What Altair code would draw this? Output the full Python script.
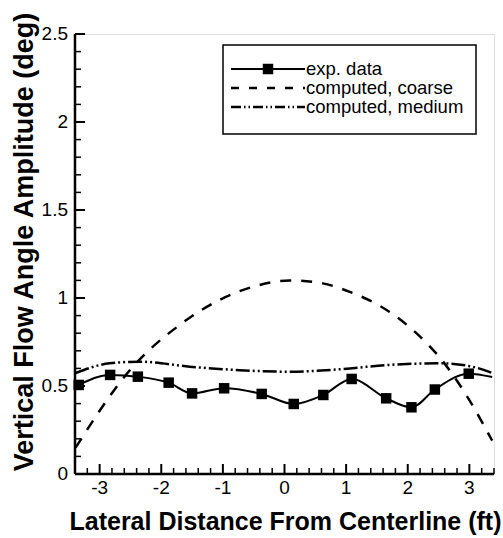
import altair as alt
import pandas as pd

# ---- data ----
exp_x = [-3.34, -2.83, -2.38, -1.88, -1.50, -0.98, -0.37, 0.15, 0.63, 1.09, 1.65, 2.06, 2.44, 2.99]
exp_y = [0.506, 0.563, 0.553, 0.519, 0.458, 0.487, 0.455, 0.398, 0.449, 0.540, 0.430, 0.379, 0.480, 0.570]
exp_line_x = exp_x + [3.37]
exp_line_y = exp_y + [0.551]

coarse_x = [-3.39, -2.46, -1.70, -1.05, -0.51, 0.08, 0.62, 1.05, 1.70, 2.14, 2.57, 3.00, 3.37]
coarse_y = [0.150, 0.610, 0.847, 0.990, 1.064, 1.100, 1.083, 1.036, 0.922, 0.800, 0.640, 0.420, 0.190]

medium_x = [-3.39, -2.84, -2.35, -1.54, -0.73, 0.08, 0.89, 1.70, 2.51, 2.99, 3.37]
medium_y = [0.574, 0.629, 0.638, 0.610, 0.590, 0.581, 0.595, 0.620, 0.629, 0.614, 0.574]

x_major = [-3, -2, -1, 0, 1, 2, 3]
x_major_labels = ["-3", "-2", "-1", "0", "1", "2", "3"]
x_minor = [-3.2, -2.8, -2.6, -2.4, -2.2, -1.8, -1.6, -1.4, -1.2, -0.8, -0.6, -0.4, -0.2,
           0.2, 0.4, 0.6, 0.8, 1.2, 1.4, 1.6, 1.8, 2.2, 2.4, 2.6, 2.8, 3.2, 3.4]
y_major = [0, 0.5, 1, 1.5, 2, 2.5]
y_major_labels = ["0", "0.5", "1", "1.5", "2", "2.5"]
y_minor = [0.1, 0.2, 0.3, 0.4, 0.6, 0.7, 0.8, 0.9, 1.1, 1.2, 1.3, 1.4, 1.6, 1.7, 1.8, 1.9,
           2.1, 2.2, 2.3, 2.4]

legend_labels = ["exp. data", "computed, coarse", "computed, medium"]
x_title = "Lateral Distance From Centerline (ft)"
y_title = "Vertical Flow Angle Amplitude (deg)"

FONT = "Liberation Sans"
W, H = 419, 440

xs = alt.Scale(domain=[-3.4, 3.4], nice=False, zero=False)
ys = alt.Scale(domain=[0, 2.5], nice=False, zero=False)


def X(field):
    return alt.X(field, scale=xs, axis=None)


def Y(field):
    return alt.Y(field, scale=ys, axis=None)


exp_line_df = pd.DataFrame({"x": exp_line_x, "y": exp_line_y})
exp_df = pd.DataFrame({"x": exp_x, "y": exp_y})
coarse_df = pd.DataFrame({"x": coarse_x, "y": coarse_y})
medium_df = pd.DataFrame({"x": medium_x, "y": medium_y})

# ---- curves ----
exp_line = alt.Chart(exp_line_df).mark_line(color="black", strokeWidth=2, interpolate="monotone").encode(
    x=X("x:Q"), y=Y("y:Q"))
exp_pts = alt.Chart(exp_df).mark_square(color="black", size=110, opacity=1).encode(
    x=X("x:Q"), y=Y("y:Q"))
coarse = alt.Chart(coarse_df).mark_line(color="black", strokeWidth=2.5, strokeDash=[11, 10],
                                        interpolate="monotone").encode(
    x=X("x:Q"), y=Y("y:Q"))
medium = alt.Chart(medium_df).mark_line(color="black", strokeWidth=2.5,
                                        strokeDash=[14, 3, 2, 3, 2, 3],
                                        interpolate="monotone").encode(
    x=X("x:Q"), y=Y("y:Q"))

# ---- axes drawn with marks (domain lines, inward ticks, labels, titles) ----
one = pd.DataFrame({"t": [x_title], "u": [y_title]})
x_domain = alt.Chart(one).mark_rule(color="black", strokeWidth=2.5).encode(
    x=alt.value(0), x2=alt.value(W), y=alt.value(H))
y_domain = alt.Chart(one).mark_rule(color="black", strokeWidth=2.5).encode(
    x=alt.value(0), y=alt.value(0), y2=alt.value(H))

xmaj = alt.Chart(pd.DataFrame({"x": x_major})).mark_rule(color="black", strokeWidth=2).encode(
    x=X("x:Q"), y=alt.value(H), y2=alt.value(H - 10))
xmin = alt.Chart(pd.DataFrame({"x": x_minor})).mark_rule(color="black", strokeWidth=1.5).encode(
    x=X("x:Q"), y=alt.value(H), y2=alt.value(H - 6))
ymaj = alt.Chart(pd.DataFrame({"y": y_major})).mark_rule(color="black", strokeWidth=2).encode(
    y=Y("y:Q"), x=alt.value(0), x2=alt.value(10))
ymin = alt.Chart(pd.DataFrame({"y": y_minor})).mark_rule(color="black", strokeWidth=1.5).encode(
    y=Y("y:Q"), x=alt.value(0), x2=alt.value(6))

xlab = alt.Chart(pd.DataFrame({"x": x_major, "lab": x_major_labels})).mark_text(
    font=FONT, fontSize=19, color="black", align="center", baseline="top").encode(
    x=X("x:Q"), y=alt.value(H + 5), text="lab:N")
ylab = alt.Chart(pd.DataFrame({"y": y_major, "lab": y_major_labels})).mark_text(
    font=FONT, fontSize=19, color="black", align="right", baseline="middle").encode(
    y=Y("y:Q"), x=alt.value(-7), text="lab:N")

xtit = alt.Chart(one).mark_text(font=FONT, fontSize=25, fontWeight="bold", color="black",
                                align="center", baseline="alphabetic").encode(
    x=alt.value(W / 2 + 1), y=alt.value(H + 56), text="t:N")
ytit = alt.Chart(one).mark_text(font=FONT, fontSize=27, fontWeight="bold", color="black",
                                align="center", baseline="middle", angle=270).encode(
    x=alt.value(-50), y=alt.value(208), text="u:N")

# ---- manual legend ----
leg_df = pd.DataFrame({"label": legend_labels})
rows_y = [35, 54, 73]
box = alt.Chart(leg_df.head(1)).mark_rect(fill="white", stroke="black", strokeWidth=1.5).encode(
    x=alt.value(148), x2=alt.value(401), y=alt.value(11), y2=alt.value(100))
l1 = alt.Chart(leg_df.head(1)).mark_rule(color="black", strokeWidth=2).encode(
    x=alt.value(156), x2=alt.value(230), y=alt.value(rows_y[0]))
l1m = alt.Chart(leg_df.head(1)).mark_square(color="black", size=110, opacity=1).encode(
    x=alt.value(193), y=alt.value(rows_y[0]))
l2 = alt.Chart(leg_df.head(1)).mark_rule(color="black", strokeWidth=2.5, strokeDash=[8, 10]).encode(
    x=alt.value(156), x2=alt.value(230), y=alt.value(rows_y[1]))
l3 = alt.Chart(leg_df.head(1)).mark_rule(color="black", strokeWidth=2.5,
                                         strokeDash=[10, 3, 1.5, 3, 1.5, 3]).encode(
    x=alt.value(156), x2=alt.value(230), y=alt.value(rows_y[2]))
texts = [
    alt.Chart(leg_df.iloc[[i]]).mark_text(align="left", baseline="middle", font=FONT,
                                          fontSize=18.5, color="black").encode(
        text="label:N", x=alt.value(231), y=alt.value(rows_y[i]))
    for i in range(3)
]

chart = alt.layer(
    exp_line, coarse, medium, exp_pts,
    x_domain, y_domain, xmaj, xmin, ymaj, ymin, xlab, ylab, xtit, ytit,
    box, l1, l1m, l2, l3, *texts
).properties(
    width=W, height=H, autosize="none",
    padding={"left": 75, "top": 34, "right": 9, "bottom": 64},
).configure_view(stroke=None).configure(background="white")

chart.save("out.html", embed_options={"renderer": "svg", "actions": False})
